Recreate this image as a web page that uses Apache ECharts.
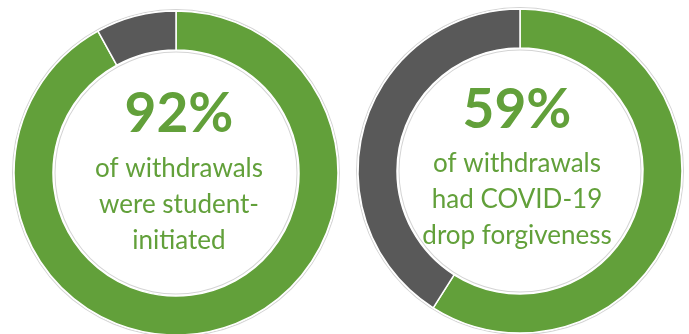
<!DOCTYPE html>
<html>
<head>
<meta charset="utf-8">
<script src="https://cdn.jsdelivr.net/npm/echarts@6/dist/echarts.min.js"></script>
<style>
  html, body { margin: 0; padding: 0; background: #ffffff; }
  #chart { width: 689px; height: 334px; }
</style>
</head>
<body>
<div id="chart"></div>
<script>
// Share of withdrawals in each group (green = highlighted share, grey = remainder)
const groups = ['Student-initiated', 'COVID-19 drop forgiveness'];
const highlighted = [92, 59];
const remainder = [8, 41];
const captions = [
  ['of withdrawals', 'were student-', 'initiated'],
  ['of withdrawals', 'had COVID-19', 'drop forgiveness']
];

const GREEN = '#62a03a';
const GREY = '#595959';
const FONT = 'Lato, "Open Sans", sans-serif';

// Ring geometry per donut
const centers = [[176, 173], [520, 171]];
const inner = 123, outer = 162;
// Text anchors inside each ring: [x, headline top, first caption line middle]
const textAnchors = [[179, 87, 169], [517, 83, 164]];
const lineGap = 36;

const series = [];
const graphics = [];

groups.forEach((name, i) => {
  const c = centers[i];
  // faint outline around both ring edges
  series.push({
    type: 'pie', silent: true, center: c, radius: [inner - 2.5, outer + 2],
    label: { show: false }, labelLine: { show: false },
    itemStyle: { color: '#d4d4d4' }, data: [{ value: 1 }], animation: false
  });
  series.push({
    type: 'pie', silent: true, center: c, radius: [inner - 1.5, outer + 1],
    label: { show: false }, labelLine: { show: false },
    itemStyle: { color: '#ffffff' }, data: [{ value: 1 }], animation: false
  });
  // the donut itself
  series.push({
    type: 'pie', name: name, center: c, radius: [inner, outer],
    startAngle: 90, clockwise: true, animation: false,
    label: { show: false }, labelLine: { show: false },
    itemStyle: { borderColor: '#ffffff', borderWidth: 1.5 },
    data: [
      { name: 'Yes', value: highlighted[i], itemStyle: { color: GREEN } },
      { name: 'No', value: remainder[i], itemStyle: { color: GREY } }
    ]
  });

  const [tx, headTop, capTop] = textAnchors[i];
  graphics.push({
    type: 'text', x: tx, y: headTop, z: 10,
    style: {
      text: highlighted[i] + '%', fill: GREEN, font: 'bold 55px ' + FONT,
      textAlign: 'center'
    }
  });
  captions[i].forEach((line, k) => {
    graphics.push({
      type: 'text', z: 10, x: tx, y: capTop + k * lineGap,
      style: {
        text: line, fill: GREEN, font: '26px ' + FONT,
        textAlign: 'center', textVerticalAlign: 'middle'
      }
    });
  });
});

const chart = echarts.init(document.getElementById('chart'));
chart.setOption({
  animation: false,
  series: series,
  graphic: graphics
});
</script>
</body>
</html>
